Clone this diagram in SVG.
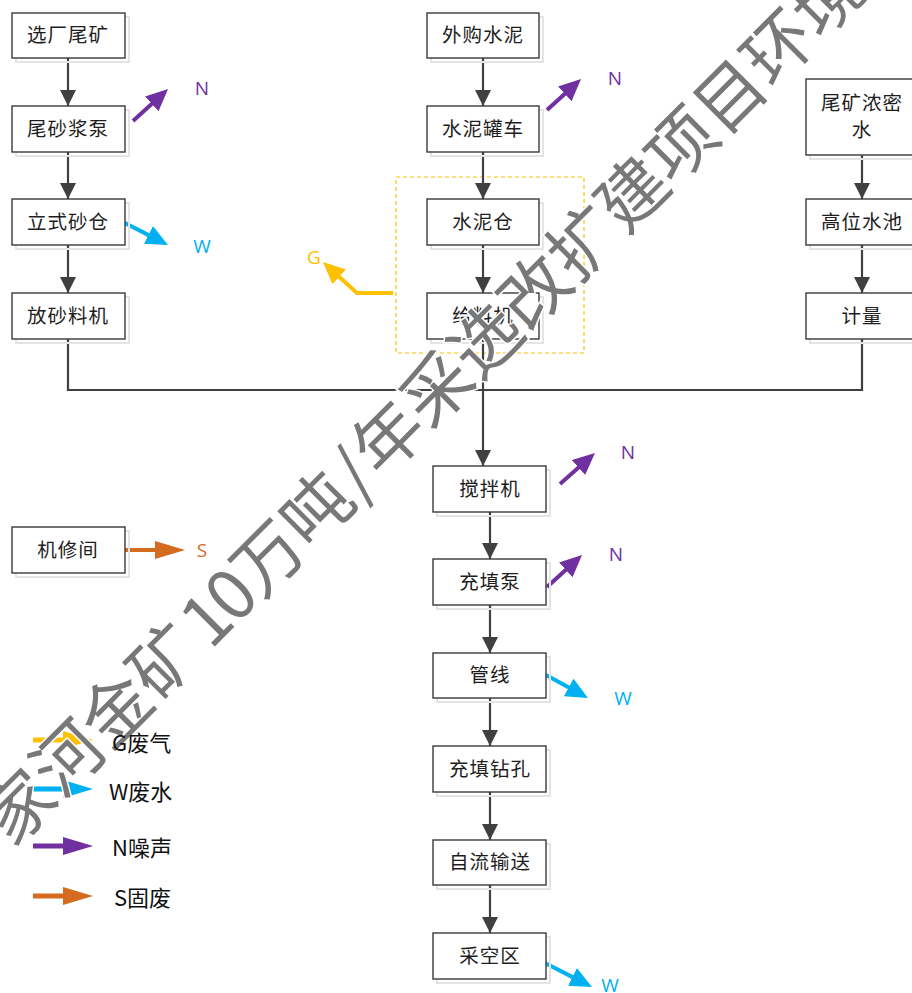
<svg xmlns="http://www.w3.org/2000/svg" width="912" height="993" viewBox="0 0 912 993">
<style>
.box{fill:#fff;stroke:#3a3a3a;stroke-width:1.4}
.sh{fill:none;stroke:#e4e4e4;stroke-width:2}
.t{font-family:"Noto Sans CJK SC","Noto Sans",sans-serif;font-size:19.5px;letter-spacing:1px;fill:#1e1e1e;text-anchor:middle}
.flow{fill:none;stroke:#404040;stroke-width:2.2}
.lbl{font-family:"Open Sans","Liberation Sans",sans-serif;font-size:19px;text-anchor:middle;dominant-baseline:central}
.leg{font-family:"Noto Sans CJK SC","Noto Sans",sans-serif;font-size:22px;fill:#111;dominant-baseline:central}
.wm{font-family:"Noto Sans CJK SC",sans-serif;font-size:69px;font-weight:400;fill:#787878;stroke:#fff;stroke-width:3;paint-order:stroke;text-anchor:middle}
</style>
<defs>
<marker id="ad" markerUnits="userSpaceOnUse" markerWidth="18" markerHeight="18" refX="16" refY="8" orient="auto"><path d="M0,0 L16,8 L0,16 z" fill="#404040"/></marker>
<marker id="aN" markerUnits="userSpaceOnUse" markerWidth="24" markerHeight="22" refX="8" refY="10" orient="auto"><path d="M0,0 L22,10 L0,20 z" fill="#7030A0"/></marker>
<marker id="aW" markerUnits="userSpaceOnUse" markerWidth="24" markerHeight="22" refX="8" refY="10" orient="auto"><path d="M0,0 L22,10 L0,20 z" fill="#00B0F0"/></marker>
<marker id="aG" markerUnits="userSpaceOnUse" markerWidth="24" markerHeight="22" refX="8" refY="10" orient="auto"><path d="M0,0 L22,10 L0,20 z" fill="#FFC000"/></marker>
<marker id="bG" markerUnits="userSpaceOnUse" markerWidth="32" markerHeight="20" refX="10" refY="9" orient="auto"><path d="M0,0 L30,9 L0,18 z" fill="#FFC000"/></marker>
<marker id="bW" markerUnits="userSpaceOnUse" markerWidth="32" markerHeight="20" refX="10" refY="9" orient="auto"><path d="M0,0 L30,9 L0,18 z" fill="#00B0F0"/></marker>
<marker id="bN" markerUnits="userSpaceOnUse" markerWidth="32" markerHeight="20" refX="10" refY="9" orient="auto"><path d="M0,0 L30,9 L0,18 z" fill="#7030A0"/></marker>
<marker id="bS" markerUnits="userSpaceOnUse" markerWidth="32" markerHeight="20" refX="10" refY="9" orient="auto"><path d="M0,0 L30,9 L0,18 z" fill="#D56B1E"/></marker>
</defs>
<rect width="912" height="993" fill="#fff"/>

<!-- dashed group frame -->
<rect x="396" y="177" width="188" height="176" fill="none" stroke="#FFC000" stroke-width="1.2" stroke-dasharray="4,3"/>

<g id="connectors">
<line class="flow" x1="68" y1="58" x2="68" y2="106" marker-end="url(#ad)"/>
<line class="flow" x1="68" y1="152" x2="68" y2="199" marker-end="url(#ad)"/>
<line class="flow" x1="68" y1="245" x2="68" y2="293" marker-end="url(#ad)"/>
<line class="flow" x1="483" y1="58" x2="483" y2="106" marker-end="url(#ad)"/>
<line class="flow" x1="483" y1="152" x2="483" y2="199" marker-end="url(#ad)"/>
<line class="flow" x1="483" y1="245" x2="483" y2="293" marker-end="url(#ad)"/>
<line class="flow" x1="862" y1="155" x2="862" y2="199" marker-end="url(#ad)"/>
<line class="flow" x1="862" y1="245" x2="862" y2="293" marker-end="url(#ad)"/>
<path class="flow" d="M68,339 V390 H862 V338"/>
<line class="flow" x1="483" y1="339" x2="483" y2="466" marker-end="url(#ad)"/>
<line class="flow" x1="490" y1="512" x2="490" y2="559" marker-end="url(#ad)"/>
<line class="flow" x1="490" y1="605" x2="490" y2="653" marker-end="url(#ad)"/>
<line class="flow" x1="490" y1="698" x2="490" y2="746" marker-end="url(#ad)"/>
<line class="flow" x1="490" y1="792" x2="490" y2="840" marker-end="url(#ad)"/>
<line class="flow" x1="490" y1="885" x2="490" y2="933" marker-end="url(#ad)"/>

<!-- emissions -->
<line x1="133" y1="121" x2="157.7" y2="98.5" stroke="#7030A0" stroke-width="4" marker-end="url(#aN)"/>
<line x1="547" y1="110" x2="570.7" y2="88.4" stroke="#7030A0" stroke-width="4" marker-end="url(#aN)"/>
<line x1="560" y1="484" x2="584.5" y2="462.3" stroke="#7030A0" stroke-width="4" marker-end="url(#aN)"/>
<line x1="547" y1="587" x2="571.7" y2="564.4" stroke="#7030A0" stroke-width="4" marker-end="url(#aN)"/>
<line x1="123" y1="222" x2="155.5" y2="238.6" stroke="#00B0F0" stroke-width="4" marker-end="url(#aW)"/>
<line x1="546" y1="675" x2="575.7" y2="691.3" stroke="#00B0F0" stroke-width="4" marker-end="url(#aW)"/>
<line x1="545" y1="963" x2="579.5" y2="980.6" stroke="#00B0F0" stroke-width="4" marker-end="url(#aW)"/>
<polyline points="393,293 357,293 333.3,271.4" fill="none" stroke="#FFC000" stroke-width="4" marker-end="url(#aG)"/>
<line x1="125" y1="550" x2="165" y2="550" stroke="#D56B1E" stroke-width="4" marker-end="url(#bS)"/>

<!-- legend arrows -->
<line x1="33" y1="740" x2="73" y2="740" stroke="#FFC000" stroke-width="5" marker-end="url(#bG)"/>
<line x1="33" y1="789" x2="73" y2="789" stroke="#00B0F0" stroke-width="5" marker-end="url(#bW)"/>
<line x1="33" y1="846" x2="73" y2="846" stroke="#7030A0" stroke-width="5" marker-end="url(#bN)"/>
<line x1="33" y1="896" x2="73" y2="896" stroke="#D56B1E" stroke-width="5" marker-end="url(#bS)"/>
</g>

<g id="labels">
<text class="lbl" x="202" y="88" fill="#7030A0">N</text>
<text class="lbl" x="615" y="78" fill="#7030A0">N</text>
<text class="lbl" x="628" y="452" fill="#7030A0">N</text>
<text class="lbl" x="616" y="554" fill="#7030A0">N</text>
<text class="lbl" x="202" y="246" fill="#00B0F0">W</text>
<text class="lbl" x="623" y="698" fill="#00B0F0">W</text>
<text class="lbl" x="610" y="985" fill="#00B0F0">W</text>
<text class="lbl" x="314" y="257" fill="#FFC000">G</text>
<text class="lbl" x="202" y="550" fill="#D56B1E">S</text>
</g>

<g id="n1"><rect class="sh" x="16" y="17" width="113" height="45"/><rect class="box" x="12" y="13" width="113" height="45"/><text class="t" x="68" y="42">选厂尾矿</text></g>
<g id="n2"><rect class="sh" x="16" y="110" width="113" height="46"/><rect class="box" x="12" y="106" width="113" height="46"/><text class="t" x="68" y="136">尾砂浆泵</text></g>
<g id="n3"><rect class="sh" x="16" y="203" width="113" height="46"/><rect class="box" x="12" y="199" width="113" height="46"/><text class="t" x="68" y="229">立式砂仓</text></g>
<g id="n4"><rect class="sh" x="16" y="297" width="113" height="46"/><rect class="box" x="12" y="293" width="113" height="46"/><text class="t" x="68" y="323">放砂料机</text></g>
<g id="n5"><rect class="sh" x="431" y="17" width="112" height="45"/><rect class="box" x="427" y="13" width="112" height="45"/><text class="t" x="483" y="42">外购水泥</text></g>
<g id="n6"><rect class="sh" x="431" y="110" width="112" height="46"/><rect class="box" x="427" y="106" width="112" height="46"/><text class="t" x="483" y="136">水泥罐车</text></g>
<g id="n7"><rect class="sh" x="431" y="203" width="112" height="46"/><rect class="box" x="427" y="199" width="112" height="46"/><text class="t" x="483" y="229">水泥仓</text></g>
<g id="n8"><rect class="sh" x="431" y="297" width="112" height="46"/><rect class="box" x="427" y="293" width="112" height="46"/><text class="t" x="483" y="323">给料机</text></g>
<g id="n9"><rect class="sh" x="810" y="83" width="113" height="76"/><rect class="box" x="806" y="79" width="113" height="76"/><text class="t" x="862" y="110">尾矿浓密</text><text class="t" x="862" y="137">水</text></g>
<g id="n10"><rect class="sh" x="810" y="203" width="113" height="46"/><rect class="box" x="806" y="199" width="113" height="46"/><text class="t" x="862" y="229">高位水池</text></g>
<g id="n11"><rect class="sh" x="810" y="297" width="113" height="46"/><rect class="box" x="806" y="293" width="113" height="46"/><text class="t" x="862" y="323">计量</text></g>
<g id="n12"><rect class="sh" x="437" y="470" width="113" height="46"/><rect class="box" x="433" y="466" width="113" height="46"/><text class="t" x="490" y="496">搅拌机</text></g>
<g id="n13"><rect class="sh" x="437" y="563" width="113" height="46"/><rect class="box" x="433" y="559" width="113" height="46"/><text class="t" x="490" y="589">充填泵</text></g>
<g id="n14"><rect class="sh" x="437" y="657" width="113" height="45"/><rect class="box" x="433" y="653" width="113" height="45"/><text class="t" x="490" y="682">管线</text></g>
<g id="n15"><rect class="sh" x="437" y="750" width="113" height="46"/><rect class="box" x="433" y="746" width="113" height="46"/><text class="t" x="490" y="776">充填钻孔</text></g>
<g id="n16"><rect class="sh" x="437" y="844" width="113" height="45"/><rect class="box" x="433" y="840" width="113" height="45"/><text class="t" x="490" y="869">自流输送</text></g>
<g id="n17"><rect class="sh" x="437" y="937" width="113" height="46"/><rect class="box" x="433" y="933" width="113" height="46"/><text class="t" x="490" y="963">采空区</text></g>
<g id="n18"><rect class="sh" x="16" y="531" width="113" height="46"/><rect class="box" x="12" y="527" width="113" height="46"/><text class="t" x="68" y="557">机修间</text></g>

<g id="watermark">
<text class="wm" transform="rotate(-45)" x="-557 -488 -420 -351 -292 -257 -205 -136 -85 -35 34 103 172 241 310 379 448 517 586" y="609">家河金矿10万吨/年采选改扩建项目环境</text>
</g>

<g id="legend">
<text class="leg" x="112" y="741">G废气</text>
<text class="leg" x="109" y="790">W废水</text>
<text class="leg" x="112" y="846">N噪声</text>
<text class="leg" x="114" y="896">S固废</text>
</g>
</svg>
